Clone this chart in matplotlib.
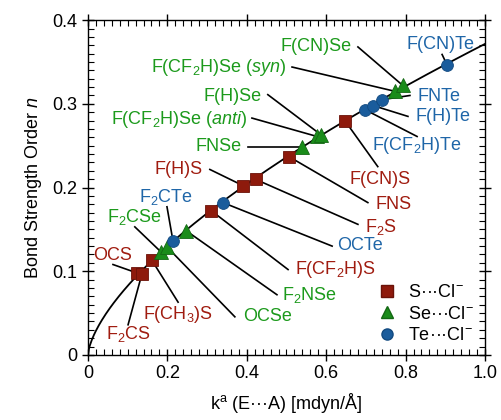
import numpy as np
import matplotlib.pyplot as plt
from matplotlib.lines import Line2D
from matplotlib.ticker import MultipleLocator, FuncFormatter

plt.rcParams['font.family'] = ['Liberation Sans', 'DejaVu Sans']
plt.rcParams['mathtext.fontset'] = 'custom'
plt.rcParams['mathtext.rm'] = 'Liberation Sans'
plt.rcParams['mathtext.it'] = 'Liberation Sans:italic'
plt.rcParams['font.size'] = 13

# data: force constant k^a and bond strength order n
s_names = ['OCS', 'F$_\\mathregular{2}$CS', 'F(CH$_\\mathregular{3}$)S', 'F(CF$_\\mathregular{2}$H)S',
           'F(H)S', 'F$_\\mathregular{2}$S', 'FNS', 'F(CN)S']
s_k = [0.123, 0.136, 0.161, 0.310, 0.390, 0.423, 0.506, 0.647]
s_n = [0.098, 0.097, 0.113, 0.1725, 0.2024, 0.2096, 0.237, 0.280]

se_names = ['F$_\\mathregular{2}$CSe', 'OCSe', 'F$_\\mathregular{2}$NSe', 'FNSe',
            'F(CF$_\\mathregular{2}$H)Se ($anti$)', 'F(H)Se', 'F(CF$_\\mathregular{2}$H)Se ($syn$)', 'F(CN)Se']
se_k = [0.184, 0.199, 0.247, 0.539, 0.577, 0.587, 0.773, 0.793]
se_n = [0.123, 0.129, 0.1485, 0.249, 0.261, 0.263, 0.315, 0.322]

te_names = ['F$_\\mathregular{2}$CTe', 'OCTe', 'F(CF$_\\mathregular{2}$H)Te', 'F(H)Te', 'FNTe', 'F(CN)Te']
te_k = [0.214, 0.340, 0.698, 0.718, 0.741, 0.904]
te_n = [0.1365, 0.182, 0.293, 0.298, 0.305, 0.347]

# label layout: text position, alignment, start of leader line
s_text = [(0.063, 0.119, 'center'), (0.101, 0.025, 'center'), (0.227, 0.048, 'center'), (0.521, 0.102, 'left'),
          (0.290, 0.2216, 'right'), (0.698, 0.153, 'left'), (0.723, 0.180, 'left'), (0.736, 0.2096, 'center')]
s_line = [(0.063, 0.108), (0.101, 0.036), (0.227, 0.063), (0.504, 0.102),
          (0.307, 0.2216), (0.680, 0.156), (0.705, 0.182), (0.730, 0.225)]
se_text = [(0.117, 0.165, 'center'), (0.390, 0.0455, 'left'), (0.489, 0.0719, 'left'), (0.388, 0.249, 'right'),
           (0.401, 0.281, 'right'), (0.438, 0.309, 'right'), (0.501, 0.344, 'right'), (0.665, 0.369, 'right')]
se_line = [(0.118, 0.153), (0.370, 0.0455), (0.476, 0.0719), (0.403, 0.249),
           (0.413, 0.283), (0.453, 0.311), (0.514, 0.344), (0.680, 0.368)]
te_text = [(0.196, 0.189, 'center'), (0.627, 0.1305, 'left'), (0.829, 0.250, 'center'),
           (0.824, 0.285, 'left'), (0.831, 0.309, 'left'), (0.887, 0.371, 'center')]
te_line = [(0.199, 0.177), (0.615, 0.130), (0.829, 0.261),
           (0.806, 0.285), (0.811, 0.310), (0.892, 0.359)]

red_txt, green_txt, blue_txt = '#a01c10', '#1c9a1c', '#1f66a8'
red_mk, green_mk, blue_mk = '#8e1a0c', '#1a8c1a', '#1a5c9c'

fig = plt.figure(figsize=(5.01, 4.2), dpi=100)
ax = fig.add_axes([0.1756, 0.155, 0.7924, 0.797])

# power-law fit through all points
all_k = np.array(s_k + se_k + te_k)
all_n = np.array(s_n + se_n + te_n)
b, loga = np.polyfit(np.log(all_k), np.log(all_n), 1)
kk = np.linspace(0, 1.0, 400)
ax.plot(kk, np.exp(loga) * kk ** b, color='black', lw=1.3, zorder=1)

groups = [
    (s_names, s_k, s_n, s_text, s_line, red_txt),
    (se_names, se_k, se_n, se_text, se_line, green_txt),
    (te_names, te_k, te_n, te_text, te_line, blue_txt),
]
for names, ks, ns, texts, lines, col in groups:
    for name, k, n, (tx, ty, ha), (lx, ly) in zip(names, ks, ns, texts, lines):
        ax.plot([lx, k], [ly, n], color='black', lw=1.2, zorder=2)
        ax.text(tx, ty, name, color=col, ha=ha, va='center', fontsize=13)

ax.plot(s_k, s_n, 's', ms=8.5, mfc=red_mk, mec='#6a1208', mew=0.6, ls='none', zorder=3)
ax.plot(se_k, se_n, '^', ms=9.5, mfc=green_mk, mec='#136813', mew=0.6, ls='none', zorder=3)
ax.plot(te_k, te_n, 'o', ms=8.5, mfc=blue_mk, mec='#124a80', mew=0.6, ls='none', zorder=3)

handles = [
    Line2D([], [], marker='s', ms=8, mfc=red_mk, mec='#6a1208', ls='none'),
    Line2D([], [], marker='^', ms=9, mfc=green_mk, mec='#136813', ls='none'),
    Line2D([], [], marker='o', ms=8, mfc=blue_mk, mec='#124a80', ls='none'),
]
ax.legend(handles, ['S\u00b7\u00b7\u00b7Cl$^{\\mathregular{-}}$', 'Se\u00b7\u00b7\u00b7Cl$^{\\mathregular{-}}$',
                    'Te\u00b7\u00b7\u00b7Cl$^{\\mathregular{-}}$'],
          loc='lower right', frameon=False, handlelength=1.0, handletextpad=0.7,
          labelspacing=0.25, borderaxespad=0.2, fontsize=13)

ax.set_xlim(0, 1.0)
ax.set_ylim(0, 0.4)
ax.xaxis.set_major_locator(MultipleLocator(0.2))
ax.xaxis.set_minor_locator(MultipleLocator(0.02))
ax.yaxis.set_major_locator(MultipleLocator(0.1))
ax.yaxis.set_minor_locator(MultipleLocator(0.01))
fmt = FuncFormatter(lambda v, pos: '0' if abs(v) < 1e-9 else f'{v:.1f}')
ax.xaxis.set_major_formatter(fmt)
ax.yaxis.set_major_formatter(fmt)
ax.tick_params(which='major', direction='inout', length=8, width=1.0, top=True, right=True, labelsize=13)
ax.tick_params(which='minor', direction='in', length=4, width=0.8, top=True, right=True)
for sp in ax.spines.values():
    sp.set_linewidth(1.0)

ax.set_xlabel('k$^\\mathregular{a}$ (E\u00b7\u00b7\u00b7A) [mdyn/\u00c5]', fontsize=13, labelpad=6)
ax.set_ylabel('Bond Strength Order $n$', fontsize=13, labelpad=6)

fig.savefig('out.png', dpi=100)
